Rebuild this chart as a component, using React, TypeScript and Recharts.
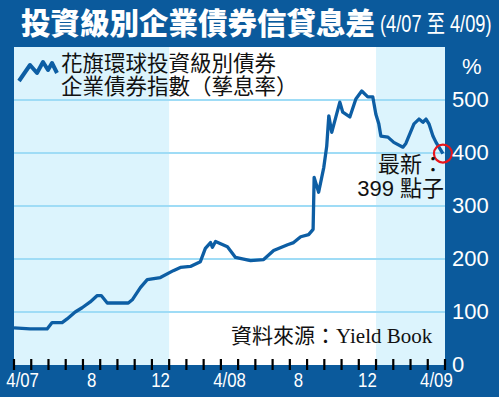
import React from 'react';
import {
  ComposedChart,
  Line,
  XAxis,
  YAxis,
  ReferenceArea,
  ReferenceLine,
  ReferenceDot,
} from 'recharts';

// x = months since start of Apr 2007 (0) .. end of Apr 2009 (25)
const months = [
  0, 0.93, 1.92, 2.21, 2.79, 3.08, 3.55, 3.95, 4.42, 4.83,
  5.06, 5.41, 6.63, 6.86, 7.33, 7.73, 8.49, 9.24, 9.65, 10.23,
  10.81, 11.1, 11.4, 11.51, 11.69, 12.38, 12.85, 13.72, 14.48, 15.06,
  15.87, 16.22, 16.63, 17.09, 17.35, 17.41, 17.67, 17.97, 18.14, 18.26,
  18.43, 18.9, 19.07, 19.48, 19.83, 20.17, 20.52, 20.81, 20.99, 21.16,
  21.28, 21.69, 22.03, 22.56, 22.73, 23.2, 23.49, 23.72, 23.9, 24.07,
  24.3, 24.48, 24.88,
];
// Citi investment grade corporate bond index spread (bp)
const spread = [
  70, 68, 68, 80, 80, 87, 100, 108, 119, 131,
  131, 117, 117, 123, 146, 161, 165, 178, 184, 186,
  195, 220, 231, 222, 233, 223, 203, 197, 199, 216,
  227, 231, 242, 246, 256, 354, 326, 373, 413, 470,
  439, 496, 477, 468, 502, 517, 506, 506, 473, 455,
  432, 430, 420, 411, 418, 455, 464, 458, 464, 455,
  432, 420, 399,
];

const monthBounds = Array.from({ length: 26 }, (_, i) => i);
const labelPos = [0.5, 4.5, 8.5, 12.5, 16.5, 20.5, 24.5];
const labelText = ['4/07', '8', '12', '4/08', '8', '12', '4/09'];
const yTicks = [0, 100, 200, 300, 400, 500];
const gridValues = [100, 200, 300, 400, 500];
// shaded years: 2007 and 2009
const shaded = [
  [0, 9],
  [21, 25],
];

const BLUE = '#0b5a9c';
const LINE = '#0d5ea4';
const SHADE = '#dcf4fd';
const GRID = '#9fdcf6';

const data = months.map((m, i) => ({ m, v: spread[i] }));

function XTick(props: any) {
  const { x, y, payload } = props;
  const val = payload.value;
  const idx = labelPos.indexOf(val);
  if (idx >= 0) {
    return (
      <text
        transform={`translate(${x},${y + 22}) scale(0.8,1)`}
        textAnchor="middle"
        fill="#fff"
        fontSize={21}
        fontFamily="'Liberation Sans', Arial, sans-serif"
      >
        {labelText[idx]}
      </text>
    );
  }
  return <line x1={x} x2={x} y1={y - 6} y2={y + 5} stroke="#000" strokeWidth={2.2} />;
}

function YTick(props: any) {
  const { x, y, payload } = props;
  return (
    <text
      x={x + 7}
      y={y + 7}
      textAnchor="start"
      fill="#fff"
      fontSize={22}
      fontFamily="'Liberation Sans', Arial, sans-serif"
    >
      {payload.value}
    </text>
  );
}

export default function App() {
  const cjk = "'Noto Sans CJK TC', 'Noto Sans CJK SC', sans-serif";
  return (
    <div
      style={{
        position: 'absolute',
        left: 0,
        top: 0,
        width: 499,
        height: 397,
        background: BLUE,
        overflow: 'hidden',
      }}
    >
      <ComposedChart
        width={499}
        height={397}
        data={data}
        margin={{ top: 47, right: 0, left: 14, bottom: 0 }}
      >
        <XAxis
          dataKey="m"
          type="number"
          domain={[0, 25]}
          ticks={[...monthBounds, ...labelPos]}
          interval={0}
          tick={<XTick />}
          tickSize={0}
          tickMargin={0}
          axisLine={false}
          tickLine={false}
          height={32}
        />
        <YAxis
          orientation="right"
          domain={[0, 600]}
          ticks={yTicks}
          interval={0}
          tick={<YTick />}
          tickSize={0}
          tickMargin={0}
          axisLine={false}
          tickLine={false}
          width={54}
        />
        <ReferenceArea x1={0} x2={25} y1={0} y2={600} fill="#fff" fillOpacity={1} stroke="none" />
        {shaded.map(([a, b]) => (
          <ReferenceArea key={a} x1={a} x2={b} y1={0} y2={600} fill={SHADE} fillOpacity={1} stroke="none" />
        ))}
        {gridValues.map((g) => (
          <ReferenceLine key={g} y={g} stroke={GRID} strokeWidth={2} />
        ))}
        <Line
          dataKey="v"
          type="linear"
          stroke={LINE}
          strokeWidth={3.3}
          strokeLinejoin="round"
          dot={false}
          isAnimationActive={false}
        />
        <ReferenceDot
          x={months[months.length - 1]}
          y={spread[spread.length - 1]}
          r={9}
          fill="none"
          stroke="#e8161b"
          strokeWidth={2.2}
          ifOverflow="visible"
        />
      </ComposedChart>

      {/* title */}
      <div
        style={{
          position: 'absolute',
          left: 21,
          top: 5,
          color: '#fff',
          fontFamily: cjk,
          fontWeight: 900,
          fontSize: 29.5,
          lineHeight: '32px',
          whiteSpace: 'nowrap',
        }}
      >
        投資級別企業債券信貸息差
      </div>
      <div
        style={{
          position: 'absolute',
          left: 380,
          top: 11,
          color: '#fff',
          fontFamily: "'Liberation Sans', Arial, " + cjk,
          fontSize: 24,
          lineHeight: '26px',
          whiteSpace: 'nowrap',
          transform: 'scaleX(0.76)',
          transformOrigin: 'left top',
        }}
      >
        (4/07 至 4/09)
      </div>

      {/* legend */}
      <svg style={{ position: 'absolute', left: 16, top: 58 }} width={44} height={28}>
        <polyline
          points="3,23 14,7 21,15 27,4 32,12 36,5 41,15"
          fill="none"
          stroke={LINE}
          strokeWidth={4}
          strokeLinejoin="round"
        />
      </svg>
      <div
        style={{
          position: 'absolute',
          left: 61,
          top: 50,
          color: '#111',
          fontFamily: cjk,
          fontSize: 21.5,
          lineHeight: '23px',
          whiteSpace: 'nowrap',
        }}
      >
        <div>花旗環球投資級別債券</div>
        <div>企業債券指數（孳息率）</div>
      </div>

      {/* unit */}
      <div
        style={{
          position: 'absolute',
          left: 462,
          top: 55,
          color: '#fff',
          fontFamily: "'Liberation Sans', Arial, sans-serif",
          fontSize: 22,
          lineHeight: '24px',
        }}
      >
        %
      </div>

      {/* latest annotation */}
      <div
        style={{
          position: 'absolute',
          right: 55,
          top: 153,
          color: '#111',
          fontFamily: "'Liberation Sans', Arial, " + cjk,
          fontSize: 22,
          lineHeight: '24px',
          textAlign: 'right',
          whiteSpace: 'nowrap',
        }}
      >
        <div>最新：</div>
        <div>399 點子</div>
      </div>

      {/* source */}
      <div
        style={{
          position: 'absolute',
          left: 231,
          top: 324,
          color: '#111',
          fontFamily: "'Liberation Serif', 'Times New Roman', " + cjk,
          fontSize: 21,
          lineHeight: '24px',
          whiteSpace: 'nowrap',
        }}
      >
        資料來源：Yield Book
      </div>
    </div>
  );
}
